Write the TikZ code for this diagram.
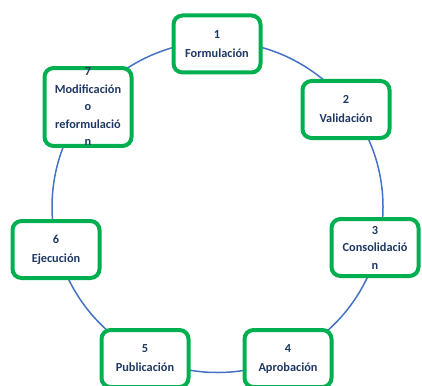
\documentclass[tikz,border=0pt]{standalone}
\usepackage{fontspec}
\setmainfont{Carlito}
\definecolor{boxgreen}{HTML}{00B050}
\definecolor{txtnavy}{HTML}{1F3864}
\definecolor{ringblue}{HTML}{4472C4}
\tikzset{
  stagebox/.style={draw=boxgreen, line width=4pt, rounded corners=9pt, fill=white,
    minimum width=87pt, minimum height=57pt, align=center, inner sep=0pt,
    text=txtnavy, font=\fontsize{12.3}{19}\selectfont\bfseries},
  ring/.style={draw=ringblue, line width=1.5pt}
}
\begin{document}
\begin{tikzpicture}[x=1pt,y=-1pt]
\useasboundingbox (0,0) rectangle (422,385);
\clip (0,0) rectangle (422,385);
\coordinate (c) at (217.5,207);
\draw[ring] (c) circle[radius=165.5pt];
\node[stagebox] (s1) at (217,44) {1\\Formulación};
\node[stagebox] (s2) at (346,109.5) {2\\Validación};
\node[stagebox, font=\fontsize{12.3}{17.5}\selectfont\bfseries] (s3) at (375,247.5) {3\\Consolidació\\n};
\node[stagebox] (s4) at (288,358.5) {4\\Aprobación};
\node[stagebox] (s5) at (145,358.5) {5\\Publicación};
\node[stagebox] (s6) at (56,249.5) {6\\Ejecución};
\node[stagebox, font=\fontsize{12.3}{17.5}\selectfont\bfseries] (s7) at (88,107) {7\\Modificación\\o\\reformulació\\n};
\end{tikzpicture}
\end{document}
